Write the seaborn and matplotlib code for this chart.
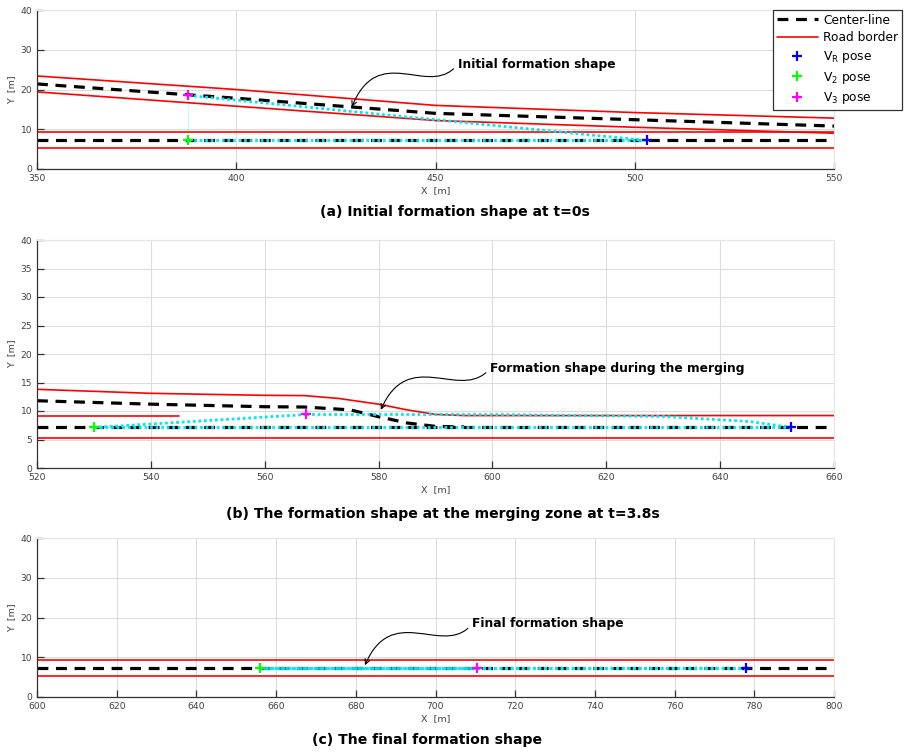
import matplotlib
matplotlib.use('Agg')
import matplotlib.pyplot as plt
from matplotlib.patches import ConnectionStyle
from matplotlib.path import Path
import seaborn as sns
import numpy as np

# road geometry, panel (a)
ramp_a_x = [350, 400, 450, 500, 550]
ramp_a_upper = [23.4, 20.0, 16.0, 14.2, 12.8]
ramp_a_center = [21.4, 17.8, 14.0, 12.4, 10.8]
ramp_a_lower = [19.4, 15.8, 12.2, 10.5, 9.0]

# road geometry, panel (b)
ramp_b_upper_x = [520, 540, 560, 567, 573, 580, 585, 590, 595, 660]
ramp_b_upper_y = [13.8, 13.1, 12.75, 12.7, 12.2, 11.2, 10.2, 9.4, 9.2, 9.2]
ramp_b_center_x = [520, 540, 560, 567, 575, 580, 585, 590, 595]
ramp_b_center_y = [11.8, 11.2, 10.75, 10.7, 10.2, 9.0, 7.9, 7.3, 7.2]
ramp_b_lower_x = [520, 545]
ramp_b_lower_y = [9.2, 9.2]

# main road
main_lower = 5.2
main_center = 7.2
main_upper = 9.2

# vehicle poses (x, y) per panel
vr_pose = [(503, 7.2), (652.5, 7.2), (778, 7.2)]
v2_pose = [(388, 7.2), (530, 7.2), (656, 7.2)]
v3_pose = [(388, 18.7), (567.3, 9.5), (710.5, 7.2)]

# formation link V3 -> VR in panel (b) follows the road
link_b_x = [567.3, 600, 630, 645, 652.5]
link_b_y = [9.5, 9.5, 9.2, 8.3, 7.2]

xlims = [(350, 550), (520, 660), (600, 800)]
xticks = [np.arange(350, 551, 50), np.arange(520, 661, 20), np.arange(600, 801, 20)]
yticks = [np.arange(0, 41, 10), np.arange(0, 41, 5), np.arange(0, 41, 10)]

titles = ['(a) Initial formation shape at t=0s',
          '(b) The formation shape at the merging zone at t=3.8s',
          '(c) The final formation shape']
notes = ['Initial formation shape', 'Formation shape during the merging', 'Final formation shape']
note_text = [(455.6, 26.4), (599.6, 17.5), (709.2, 18.4)]
note_tip = [(429, 15.6), (580.4, 10.2), (682.3, 8.0)]


class Squiggle(ConnectionStyle._Base):
    # wavy hand-drawn style pointer: dip, hump, then down to the target
    def connect(self, posA, posB):
        (xa, ya), (xb, yb) = posA, posB
        dx, dy = xb - xa, yb - ya
        verts = [(xa, ya), (xa + 0.26 * dx, ya + 0.84 * dy),
                 (xa + 0.74 * dx, ya - 0.56 * dy), (xb, yb)]
        return Path(verts, [Path.MOVETO, Path.CURVE4, Path.CURVE4, Path.CURVE4])


sns.set_style('whitegrid')
plt.rcParams['font.family'] = ['DejaVu Sans']

fig = plt.figure(figsize=(9.14, 7.53), dpi=100)
W, H = 914, 753
boxes = [(37, 10, 834, 169), (37, 240, 834, 468), (37, 538, 834, 697)]
axes = [fig.add_axes([l / W, 1 - b / H, (r - l) / W, (b - t) / H]) for l, t, r, b in boxes]

red = '#ff0000'
cyan = '#00e8f0'
dash = (3.4, 2.4)

for i, ax in enumerate(axes):
    x0, x1 = xlims[i]
    first = (i == 0)
    # road borders
    sns.lineplot(x=[x0, x1], y=[main_lower] * 2, ax=ax, color=red, lw=1.2,
                 label='Road border' if first else None)
    if i == 0:
        sns.lineplot(x=[x0, x1], y=[main_upper] * 2, ax=ax, color=red, lw=1.2)
        sns.lineplot(x=ramp_a_x, y=ramp_a_upper, ax=ax, color=red, lw=1.2)
        sns.lineplot(x=ramp_a_x, y=ramp_a_lower, ax=ax, color=red, lw=1.2)
    elif i == 1:
        sns.lineplot(x=ramp_b_upper_x, y=ramp_b_upper_y, ax=ax, color=red, lw=1.2, sort=False)
        sns.lineplot(x=ramp_b_lower_x, y=ramp_b_lower_y, ax=ax, color=red, lw=1.2)
    else:
        sns.lineplot(x=[x0, x1], y=[main_upper] * 2, ax=ax, color=red, lw=1.2)

    # center lines
    sns.lineplot(x=[x0, x1], y=[main_center] * 2, ax=ax, color='black', lw=2.3,
                 label='Center-line' if first else None).lines[-1].set_dashes(dash)
    if i == 0:
        sns.lineplot(x=ramp_a_x, y=ramp_a_center, ax=ax, color='black', lw=2.3).lines[-1].set_dashes(dash)
    elif i == 1:
        sns.lineplot(x=ramp_b_center_x, y=ramp_b_center_y, ax=ax, color='black', lw=2.3,
                     sort=False).lines[-1].set_dashes(dash)

    # formation links
    r, g, m = vr_pose[i], v2_pose[i], v3_pose[i]
    links = [([g[0], r[0]], [g[1], r[1]]), ([m[0], g[0]], [m[1], g[1]])]
    if i == 1:
        links.append((link_b_x, link_b_y))
    else:
        links.append(([m[0], r[0]], [m[1], r[1]]))
    for lx, ly in links:
        ln = sns.lineplot(x=lx, y=ly, ax=ax, color=cyan, lw=2.0, sort=False).lines[-1]
        ln.set_dashes((1.0, 1.0))
        ln.set_snap(True)

    # vehicle poses
    for (px, py), col, lab in [(r, '#0000ff', r'V$_\mathrm{R}$ pose'), (g, '#00ff00', r'V$_\mathrm{2}$ pose'),
                               (m, '#ff00ff', r'V$_\mathrm{3}$ pose')]:
        ax.plot([px], [py], ls='none', marker='+', ms=7, mew=1.6, color=col,
                label=lab if first else None)

    ax.annotate(notes[i], xy=note_tip[i], xytext=note_text[i], fontsize=8.8, fontweight='bold',
                ha='left', va='center', color='black',
                arrowprops=dict(arrowstyle='->,head_length=0.4,head_width=0.2', color='black', lw=0.8,
                                connectionstyle=Squiggle(), relpos=(0, 0.5), shrinkA=1, shrinkB=0))

    ax.set_xlim(x0, x1)
    ax.set_ylim(0, 40)
    ax.set_xticks(xticks[i])
    ax.set_yticks(yticks[i])
    ax.grid(True, color='#dcdcdc', lw=0.8)
    for s in ['top', 'right']:
        ax.spines[s].set_color('#e6e6e6')
        ax.spines[s].set_linewidth(0.8)
    for s in ['bottom', 'left']:
        ax.spines[s].set_color('#333333')
        ax.spines[s].set_linewidth(0.9)
    ax.tick_params(axis='both', direction='in', length=5, width=0.9, color='#333333',
                   labelsize=6.6, labelcolor='#404040', bottom=True, left=True, top=False, right=False)
    ax.set_xlabel('X  [m]', fontsize=6.8, color='#404040', labelpad=2)
    ax.set_ylabel('Y  [m]', fontsize=6.8, color='#404040', labelpad=3)
    if ax.get_legend() is not None:
        ax.get_legend().remove()

handles, labels = axes[0].get_legend_handles_labels()
order = ['Center-line', 'Road border', r'V$_\mathrm{R}$ pose', r'V$_\mathrm{2}$ pose', r'V$_\mathrm{3}$ pose']
hl = {l: h for h, l in zip(handles, labels)}
leg = fig.legend([hl[o] for o in order], order, loc='upper left',
                 bbox_to_anchor=(773 / W, 1 - 10 / H), fontsize=8.8, frameon=True,
                 fancybox=False, framealpha=1, edgecolor='#333333', handlelength=3.4,
                 labelspacing=0.38, borderpad=0.3, handletextpad=0.4, borderaxespad=0)
leg.get_frame().set_linewidth(0.9)
for t in leg.get_texts():
    t.set_color('black')

title_pos = [(455, 212), (443, 514), (427, 740)]
for t, (tx, ty) in zip(titles, title_pos):
    fig.text(tx / W, 1 - ty / H, t, ha='center', va='center', fontsize=10.1,
             fontweight='bold', color='black')

fig.savefig('out.png', dpi=100)
